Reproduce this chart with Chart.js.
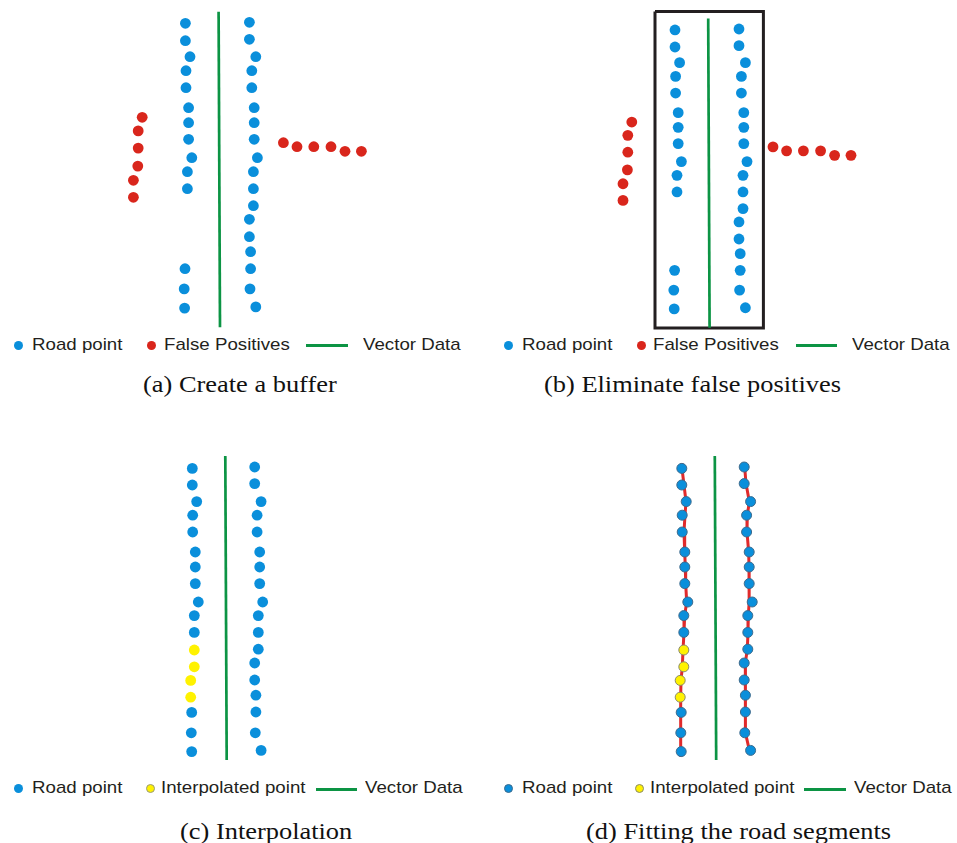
<!DOCTYPE html>
<html>
<head>
<meta charset="utf-8">
<script src="https://cdn.jsdelivr.net/npm/chart.js@4"></script>
<style>
  html, body { margin: 0; padding: 0; background: #fff; }
  #page { position: relative; width: 957px; height: 843px; overflow: hidden; background: #fff; }
  canvas { position: absolute; }
  .lg { position: absolute; font-family: "Liberation Sans", Arial, sans-serif; font-size: 17px; line-height: 17px;
        color: #231f20; white-space: nowrap; transform: scaleX(1.1); transform-origin: 0 0; }
  .cap { position: absolute; font-family: "Liberation Serif", "Times New Roman", serif; font-size: 24px; line-height: 24px;
         color: #111; white-space: nowrap; transform: scaleX(1.1); transform-origin: 0 0; }
  .dot { position: absolute; width: 9px; height: 9px; border-radius: 50%; box-sizing: border-box; }
  .bar { position: absolute; height: 3px; background: #0c9444; }
</style>
</head>
<body>
<div id="page">
  <canvas id="pa" width="300" height="335"></canvas>
  <canvas id="pb" width="290" height="335"></canvas>
  <canvas id="pc" width="150" height="330"></canvas>
  <canvas id="pd" width="150" height="330"></canvas>
</div>
<script>
// ---- Buffer panels (a) and (b): offset across the road (x) and distance along it (y)
const bufLeftX  = [-8.5, -8.5, -7.35, -8.35, -8.35, -7.7, -7.7, -7.7, -6.9, -8.0, -8.0, -8.6, -8.8, -8.7];
const bufLeftY  = [2.9, 7.25, 11.25, 14.75, 19, 24, 27.75, 31.9, 36.5, 40, 44.25, 64.25, 69.3, 74.1];
const bufRightX = [7.5, 7.5, 9.1, 8.1, 8.1, 8.7, 8.7, 8.7, 9.5, 8.5, 8.5, 8.5, 7.5, 7.5, 7.8, 7.8, 7.65, 9.1];
const bufRightY = [2.65, 6.9, 11.25, 14.75, 19, 24, 27.75, 31.9, 36.5, 40, 44.25, 48.5, 51.9, 56.25, 60, 64.25, 69.3, 73.8];
const falseLeftX  = [-19.3, -20.3, -20.3, -20.4, -21.5, -21.5];
const falseLeftY  = [26.4, 29.8, 34.1, 38.6, 42.15, 46.4];
const falseRightX = [16, 19.4, 23.6, 27.9, 31.4, 35.5];
const falseRightY = [32.75, 33.75, 33.75, 33.75, 34.9, 34.9];
const vectorABX = [-0.2, 0.15];
const vectorABY = [0, 78.9];
const bufferX = [-13.5, 13.6];
const bufferY = [-1.8, 79];

// ---- Interpolation panels (c) and (d)
const roadLeftX  = [-8.3, -8.3, -7.2, -8.2, -8.2, -7.55, -7.55, -7.55, -6.8, -7.8, -7.8, -8.45, -8.55, -8.45];
const roadLeftY  = [3.1, 7.25, 11.4, 14.8, 19, 24, 27.75, 31.9, 36.5, 39.9, 44.1, 64.1, 69.2, 73.9];
const interpX    = [-7.8, -7.8, -8.7, -8.7];
const interpY    = [48.5, 52.7, 56.1, 60.3];
const roadRightX = [7.3, 7.3, 8.9, 7.9, 7.9, 8.55, 8.55, 8.55, 9.3, 8.2, 8.2, 8.2, 7.3, 7.3, 7.6, 7.6, 7.45, 8.9];
const roadRightY = [2.75, 6.9, 11.4, 14.8, 19, 24, 27.75, 31.9, 36.5, 39.9, 44.1, 48.3, 51.75, 56, 59.8, 64, 69.2, 73.6];
const vectorCDX = [-0.05, 0.3];
const vectorCDY = [0, 76];

// ---- Fitted road segments in panel (d)
const fitLeftX  = [-8.25, -8.25, -7.75, -7.25, -7.5, -7.75, -7.58, -7.42, -7.33, -7.08, -7.58, -7.75, -8.0, -8.17, -8.5, -8.58, -8.58, -8.58, -8.58, -8.58];
const fitLeftY  = [1.8, 3.1, 7.25, 11.4, 14.8, 19, 24, 27.75, 31.9, 36.5, 39.9, 44.1, 48.5, 52.7, 56.1, 60.3, 64.1, 69.2, 73.9, 75.2];
const fitRightX = [7.25, 7.42, 7.75, 8.58, 8.08, 8.0, 8.42, 8.5, 8.5, 8.58, 8.33, 8.25, 8.08, 7.58, 7.5, 7.67, 7.58, 7.67, 8.6, 8.85];
const fitRightY = [1.83, 2.75, 6.9, 11.4, 14.8, 19, 24, 27.75, 31.9, 36.5, 39.9, 44.1, 48.3, 51.75, 56, 59.8, 64, 69.2, 73.6, 74.4];

const BLUE = '#0a8fdb', RED = '#d9261c', YELLOW = '#fff200', GREEN = '#0c9444', FIT = '#e02a2b';

const pts = (xs, ys) => xs.map((x, i) => ({ x, y: ys[i] }));

function dots(label, xs, ys, color, border, order) {
  return {
    label, data: pts(xs, ys), backgroundColor: color,
    borderColor: border || color, borderWidth: border ? 1 : 0,
    pointRadius: border ? 5 : 5.4, pointHoverRadius: 5.4, showLine: false, clip: false, order: order || 1
  };
}
function line(label, xs, ys, color, width, order) {
  return {
    label, data: pts(xs, ys), borderColor: color, borderWidth: width, showLine: true,
    pointRadius: 0, fill: false, tension: 0, clip: false, order: order || 2
  };
}

// frame: where the panel's canvas sits on the page and how one data unit maps to pixels
function panel(id, frame, datasets) {
  const cv = document.getElementById(id);
  cv.style.left = frame.left + 'px';
  cv.style.top = frame.top + 'px';
  const w = cv.width, h = cv.height;
  const xmin = (frame.left - frame.ox) / frame.ux;
  const xmax = (frame.left + w - frame.ox) / frame.ux;
  const ymin = (frame.top - frame.oy) / frame.uy;
  const ymax = (frame.top + h - frame.oy) / frame.uy;
  return new Chart(cv, {
    type: 'scatter',
    data: { datasets },
    options: {
      responsive: false, animation: false, devicePixelRatio: 1,
      layout: { padding: 0, autoPadding: false },
      plugins: { legend: { display: false }, tooltip: { enabled: false } },
      scales: {
        x: { type: 'linear', min: xmin, max: xmax, display: false },
        y: { type: 'linear', min: ymin, max: ymax, reverse: true, display: false }
      }
    }
  });
}

// (a) Create a buffer
panel('pa', { left: 100, top: 0, ox: 219.4, oy: 11.7, ux: 4, uy: 4 }, [
  line('Vector Data', vectorABX, vectorABY, GREEN, 2.7),
  dots('Road point', bufLeftX.concat(bufRightX), bufLeftY.concat(bufRightY), BLUE),
  dots('False Positives', falseLeftX.concat(falseRightX), falseLeftY.concat(falseRightY), RED)
]);

// (b) Eliminate false positives: same points, with the buffer drawn round the road
const boxX = [bufferX[0], bufferX[1], bufferX[1], bufferX[0], bufferX[0]];
const boxY = [bufferY[0], bufferY[0], bufferY[1], bufferY[1], bufferY[0]];
panel('pb', { left: 590, top: 0, ox: 709, oy: 18.6, ux: 4, uy: 3.918 }, [
  line('Buffer', boxX, boxY, '#231f20', 3, 3),
  line('Vector Data', vectorABX, vectorABY, GREEN, 2.7),
  dots('Road point', bufLeftX.concat(bufRightX), bufLeftY.concat(bufRightY), BLUE),
  dots('False Positives', falseLeftX.concat(falseRightX), falseLeftY.concat(falseRightY), RED)
]);

// (c) Interpolation
panel('pc', { left: 150, top: 440, ox: 225.5, oy: 456, ux: 4, uy: 4 }, [
  line('Vector Data', vectorCDX, vectorCDY, GREEN, 2.7),
  dots('Road point', roadLeftX.concat(roadRightX), roadLeftY.concat(roadRightY), BLUE),
  dots('Interpolated point', interpX, interpY, YELLOW)
]);

// (d) Fitting the road segments
panel('pd', { left: 640, top: 440, ox: 715, oy: 456, ux: 4, uy: 4 }, [
  line('Fitted road', fitLeftX, fitLeftY, FIT, 3, 0),
  line('Fitted road', fitRightX, fitRightY, FIT, 3, 0),
  line('Vector Data', vectorCDX, vectorCDY, GREEN, 2.7),
  dots('Road point', roadLeftX.concat(roadRightX), roadLeftY.concat(roadRightY), BLUE, '#3d6a8c'),
  dots('Interpolated point', interpX, interpY, YELLOW, '#8a8a6a')
]);

// ---- Legends and captions
const page = document.getElementById('page');
function add(cls, text, css) {
  const el = document.createElement('div');
  el.className = cls;
  if (text) el.textContent = text;
  Object.assign(el.style, css);
  page.appendChild(el);
  return el;
}
function dot(cx, cy, color, border) {
  add('dot', '', { left: (cx - 4.5) + 'px', top: (cy - 4.5) + 'px', background: color,
                   border: border ? '1px solid ' + border : 'none' });
}
function bar(x0, x1, cy) {
  add('bar', '', { left: x0 + 'px', top: (cy - 1.5) + 'px', width: (x1 - x0) + 'px' });
}
const LG = 14.4, CAP = 20.1; // baseline offsets for 17px sans / 24px serif text

// legend row of (a)
dot(18.3, 345.4, BLUE); add('lg', 'Road point', { left: '32.3px', top: (350.3 - LG) + 'px' });
dot(151.7, 345.4, RED); add('lg', 'False Positives', { left: '164px', top: (350.3 - LG) + 'px' });
bar(306, 348, 345.7); add('lg', 'Vector Data', { left: '362.7px', top: (350.3 - LG) + 'px' });
add('cap', '(a) Create a buffer', { left: '142.7px', top: (392 - CAP) + 'px' });

// legend row of (b)
dot(508.3, 345.4, BLUE); add('lg', 'Road point', { left: '522.3px', top: (350.3 - LG) + 'px' });
dot(641.7, 345.4, RED); add('lg', 'False Positives', { left: '653.3px', top: (350.3 - LG) + 'px' });
bar(796, 837.3, 345.7); add('lg', 'Vector Data', { left: '852.3px', top: (350.3 - LG) + 'px' });
add('cap', '(b) Eliminate false positives', { left: '544.3px', top: (392 - CAP) + 'px' });

// legend row of (c)
dot(18.3, 788.3, BLUE); add('lg', 'Road point', { left: '32.3px', top: (793.3 - LG) + 'px' });
dot(150, 788.3, YELLOW, '#9a9a7a'); add('lg', 'Interpolated point', { left: '160.7px', top: (793.3 - LG) + 'px' });
bar(315.5, 357, 789); add('lg', 'Vector Data', { left: '365px', top: (793.3 - LG) + 'px' });
add('cap', '(c) Interpolation', { left: '180px', top: (839.3 - CAP) + 'px' });

// legend row of (d)
dot(508.3, 788.3, BLUE, '#3d6a8c'); add('lg', 'Road point', { left: '521.7px', top: (793.3 - LG) + 'px' });
dot(639.3, 788.3, YELLOW, '#8a8a6a'); add('lg', 'Interpolated point', { left: '650px', top: (793.3 - LG) + 'px' });
bar(804, 845.7, 789); add('lg', 'Vector Data', { left: '854px', top: (793.3 - LG) + 'px' });
add('cap', '(d) Fitting the road segments', { left: '586px', top: (839.3 - CAP) + 'px' });
</script>
</body>
</html>
